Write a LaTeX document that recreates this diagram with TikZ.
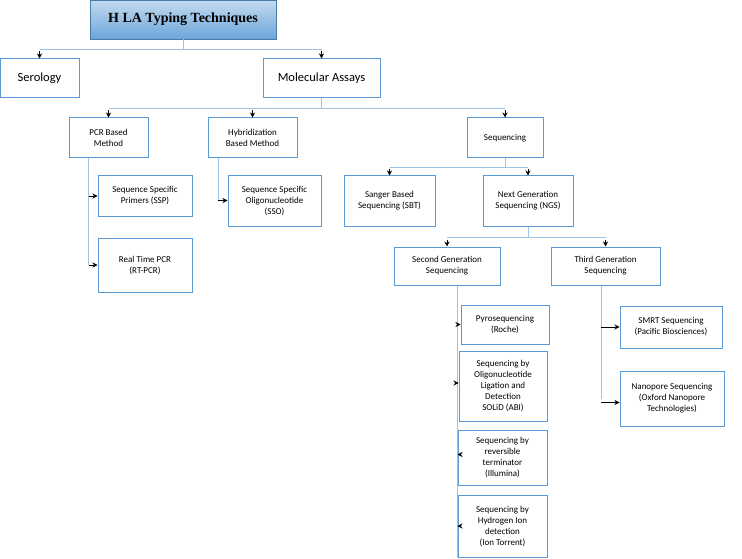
\documentclass[tikz,border=0pt]{standalone}
\usepackage{fontspec}
\setmainfont{Carlito}
\newfontfamily\titlefont{Liberation Serif}
\usetikzlibrary{arrows.meta, positioning, calc}
\definecolor{boxblue}{HTML}{5B9BD5}
\definecolor{linkblue}{HTML}{9DC3E6}
\definecolor{topfill}{HTML}{9DC3E6}
\begin{document}
\begin{tikzpicture}[x=1pt, y=-1pt,
    box/.style={rectangle, draw=boxblue, line width=1pt, fill=white, align=center, font=\fontsize{9}{11}\selectfont, inner sep=1pt},
    bigbox/.style={box, font=\fontsize{12.5}{14}\selectfont},
    title/.style={rectangle, draw=boxblue!80!black, line width=0.8pt, top color=topfill!60, bottom color=boxblue!90, font=\titlefont\bfseries\fontsize{14}{16}\selectfont},
    link/.style={draw=linkblue, line width=0.8pt},
    tip/.style={-{Stealth[length=5pt, width=5pt]}, line width=0.7pt, black}
]
\useasboundingbox (0,0) rectangle (742,559);

% Levels
\node[title, minimum width=186pt, minimum height=39pt] (hla) at (183,19.5) {H LA Typing Techniques};
\node[bigbox, minimum width=79pt, minimum height=39pt] (sero) at (39.5,78.5) {Serology};
\node[bigbox, minimum width=117pt, minimum height=39pt] (mol) at (321.5,78.5) {Molecular Assays};

\node[box, minimum width=79pt, minimum height=40pt] (pcr) at (108.5,138) {PCR Based\\Method};
\node[box, minimum width=89pt, minimum height=40pt] (hyb) at (252.5,138) {Hybridization\\Based Method};
\node[box, minimum width=76pt, minimum height=40pt] (seq) at (505,138) {Sequencing};

\node[box, minimum width=94pt, minimum height=40pt] (ssp) at (145,196) {Sequence Specific\\Primers (SSP)};
\node[box, minimum width=94pt, minimum height=54pt] (rtpcr) at (145,265) {Real Time PCR\\(RT-PCR)};
\node[box, minimum width=93pt, minimum height=50pt] (sso) at (274.5,201) {Sequence Specific\\Oligonucleotide\\(SSO)};
\node[box, minimum width=91pt, minimum height=50pt] (sbt) at (389.5,201) {Sanger Based\\Sequencing (SBT)};
\node[box, minimum width=90pt, minimum height=50pt] (ngs) at (528,201) {Next Generation\\Sequencing (NGS)};

\node[box, minimum width=106pt, minimum height=38pt] (second) at (447,266) {Second Generation\\Sequencing};
\node[box, minimum width=109pt, minimum height=38pt] (third) at (605.5,266) {Third Generation\\Sequencing};

\node[box, minimum width=88pt, minimum height=39pt] (pyro) at (505,324.5) {Pyrosequencing\\(Roche)};
\node[box, minimum width=88pt, minimum height=70pt] (solid) at (503,386) {Sequencing by\\Oligonucleotide\\Ligation and\\Detection\\SOLiD (ABI)};
\node[box, minimum width=89pt, minimum height=55pt] (illu) at (502.5,457.5) {Sequencing by\\reversible\\terminator\\(Illumina)};
\node[box, minimum width=89pt, minimum height=62pt] (ion) at (502.5,526) {Sequencing by\\Hydrogen Ion\\detection\\(Ion Torrent)};
\node[box, minimum width=102pt, minimum height=42pt] (smrt) at (671,327) {SMRT Sequencing\\(Pacific Biosciences)};
\node[box, minimum width=104pt, minimum height=55pt] (nano) at (672,398.5) {Nanopore Sequencing\\(Oxford Nanopore\\Technologies)};

% Trunk lines
\draw[link] (hla.south) -- ++(0,10) coordinate (j1);
\draw[link] (sero.north |- j1) -- (mol.north |- j1);
\draw[link] (mol.south) -- ++(0,10) coordinate (j2);
\draw[link] (pcr.north |- j2) -- (seq.north |- j2);
\draw[link] (seq.south) -- ++(0,9) coordinate (j3);
\draw[link] (sbt.north |- j3) -- (ngs.north |- j3);
\draw[link] (ngs.south) -- ++(0,11) coordinate (j4);
\draw[link] (second.north |- j4) -- (third.north |- j4);

% Down arrows
\foreach \n/\j in {sero/j1, mol/j1, pcr/j2, hyb/j2, seq/j2, sbt/j3, ngs/j3, second/j4, third/j4}
  \draw[tip] ($(\n.north |- \j)+(0,2)$) -- (\n.north);

% Side branches
\coordinate (pcrbar) at ($(pcr.south west)!0.25!(pcr.south east)$);
\draw[link] (pcrbar) -- (pcrbar |- rtpcr);
\foreach \n in {ssp, rtpcr}
  \draw[tip] (pcrbar |- \n) -- (\n.west);
\coordinate (hybbar) at ($(hyb.south west)!0.12!(hyb.south east)$);
\draw[link] (hybbar) -- ++(0,42);
\draw[tip] ($(hybbar)+(0,42)$) -- (sso.west |- {$(hybbar)+(0,42)$});
\coordinate (secbar) at ($(second.south west)!0.6!(second.south east)$);
\draw[link] (secbar) -- (secbar |- ion.south);
\foreach \n/\dy in {pyro/0, solid/-3, illu/-3, ion/0}
  \draw[tip] ($(secbar |- \n)+(0,\dy)$) -- ($(\n.west)+(0,\dy)$);
\coordinate (thirdbar) at ($(third.south west)!0.46!(third.south east)$);
\draw[link] (thirdbar) -- (thirdbar |- nano);
\draw[tip] (thirdbar |- smrt) -- (smrt.west);
\draw[tip] ($(thirdbar |- nano)+(0,4)$) -- ($(nano.west)+(0,4)$);

\end{tikzpicture}
\end{document}
